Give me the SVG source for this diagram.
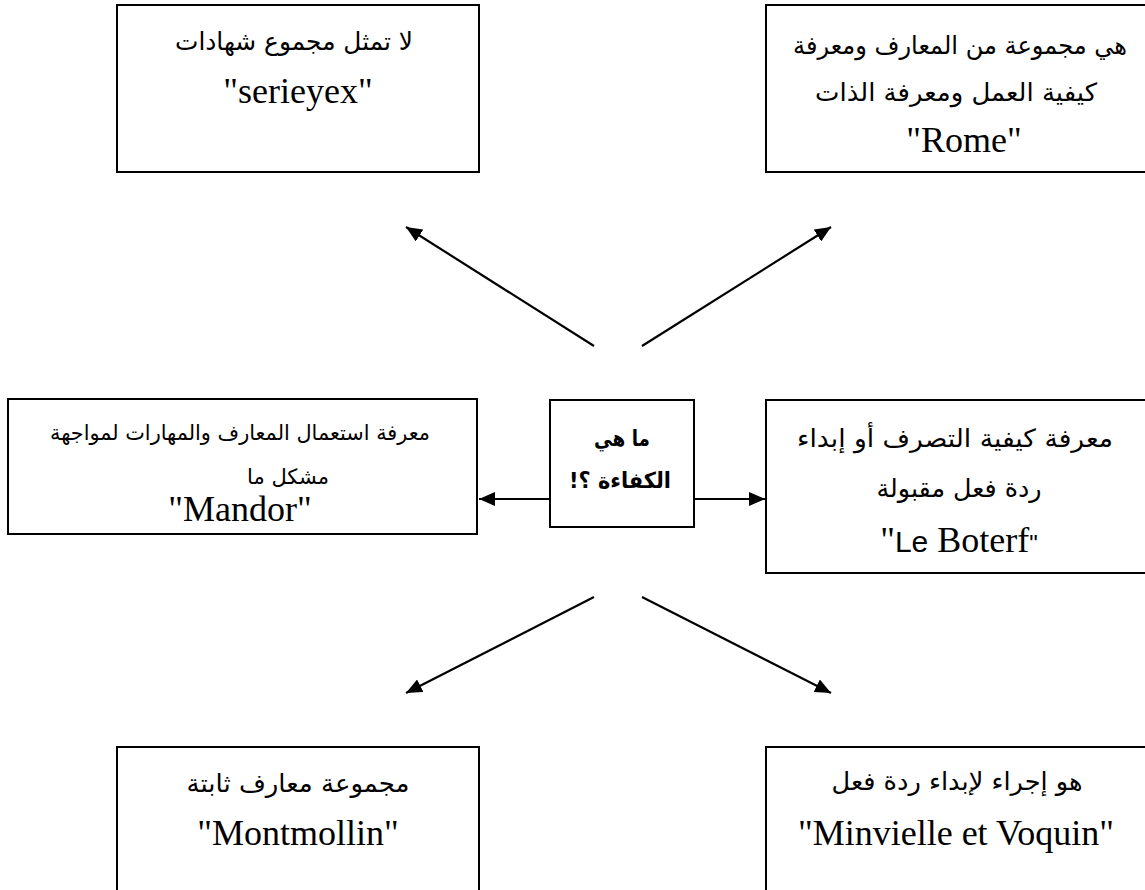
<svg xmlns="http://www.w3.org/2000/svg" width="1145" height="890" viewBox="0 0 1145 890">
  <style>
    .box { fill: #ffffff; stroke: #000000; stroke-width: 2; }
    .ar { font-family: "DejaVu Sans", "Noto Sans", sans-serif; font-size: 25px; fill: #000000; text-anchor: middle; direction: rtl; unicode-bidi: embed; }
    .ar-sm { font-family: "DejaVu Sans", "Noto Sans", sans-serif; font-size: 21px; fill: #000000; text-anchor: middle; direction: rtl; unicode-bidi: embed; }
    .arb { font-family: "DejaVu Sans", "Noto Sans", sans-serif; font-size: 22px; font-weight: bold; fill: #000000; text-anchor: middle; direction: rtl; unicode-bidi: embed; }
    .lat { font-family: "Liberation Serif", "Times New Roman", serif; font-size: 36px; fill: #000000; text-anchor: middle; }
    .sans { font-family: "Liberation Sans", Arial, sans-serif; }
    .link { fill: none; stroke: #000000; stroke-width: 2.2; }
  </style>
  <defs>
    <marker id="head" viewBox="0 0 16 14" refX="16" refY="7" markerWidth="16" markerHeight="14" markerUnits="userSpaceOnUse" orient="auto">
      <path d="M0,0 L16,7 L0,14 Z" fill="#000000"/>
    </marker>
  </defs>

  <rect width="1145" height="890" fill="#ffffff"/>

  <!-- connectors -->
  <g id="connectors">
    <line class="link" x1="594" y1="346" x2="406" y2="227" marker-end="url(#head)"/>
    <line class="link" x1="642" y1="346" x2="831" y2="227" marker-end="url(#head)"/>
    <line class="link" x1="594" y1="597" x2="406" y2="693" marker-end="url(#head)"/>
    <line class="link" x1="642" y1="597" x2="831" y2="693" marker-end="url(#head)"/>
    <line class="link" x1="550" y1="499" x2="479" y2="499" marker-end="url(#head)"/>
    <line class="link" x1="694" y1="499" x2="765" y2="499" marker-end="url(#head)"/>
  </g>

  <!-- top left -->
  <g id="node-serieyex">
    <rect class="box" x="117" y="5" width="362" height="167"/>
    <text class="ar" x="294" y="50" textLength="238" lengthAdjust="spacingAndGlyphs">لا تمثل مجموع شهادات</text>
    <text class="lat" x="298" y="103">"serieyex"</text>
  </g>

  <!-- top right -->
  <g id="node-rome">
    <rect class="box" x="766" y="5" width="386" height="167"/>
    <text class="ar" x="960" y="54" textLength="334" lengthAdjust="spacingAndGlyphs">هي مجموعة من المعارف ومعرفة</text>
    <text class="ar" x="956" y="101" textLength="282" lengthAdjust="spacingAndGlyphs">كيفية العمل ومعرفة الذات</text>
    <text class="lat" x="964" y="152">"Rome"</text>
  </g>

  <!-- middle left -->
  <g id="node-mandor">
    <rect class="box" x="8" y="399" width="469" height="135"/>
    <text class="ar-sm" x="240" y="440" textLength="380" lengthAdjust="spacingAndGlyphs">معرفة استعمال المعارف والمهارات لمواجهة</text>
    <text class="ar-sm" x="288" y="484">مشكل ما</text>
    <text class="lat" x="240" y="521">"Mandor"</text>
  </g>

  <!-- center -->
  <g id="node-center">
    <rect class="box" x="550" y="400" width="144" height="127"/>
    <text class="arb" x="622" y="446" textLength="56" lengthAdjust="spacingAndGlyphs">ما هي</text>
    <text class="arb" x="620" y="488" textLength="102" lengthAdjust="spacingAndGlyphs">الكفاءة ؟!</text>
  </g>

  <!-- middle right -->
  <g id="node-boterf">
    <rect class="box" x="766" y="400" width="386" height="173"/>
    <text class="ar" x="955" y="447" textLength="316" lengthAdjust="spacingAndGlyphs">معرفة كيفية التصرف أو إبداء</text>
    <text class="ar" x="959" y="497" textLength="165" lengthAdjust="spacingAndGlyphs">ردة فعل مقبولة</text>
    <text class="lat" x="959" y="552">"<tspan class="sans" font-size="30">Le</tspan> Boterf<tspan class="sans" font-size="24">"</tspan></text>
  </g>

  <!-- bottom left -->
  <g id="node-montmollin">
    <rect class="box" x="117" y="747" width="362" height="160"/>
    <text class="ar" x="298" y="792" textLength="223" lengthAdjust="spacingAndGlyphs">مجموعة معارف ثابتة</text>
    <text class="lat" x="298" y="845">"Montmollin"</text>
  </g>

  <!-- bottom right -->
  <g id="node-minvielle">
    <rect class="box" x="766" y="747" width="386" height="160"/>
    <text class="ar" x="957" y="790" textLength="251" lengthAdjust="spacingAndGlyphs">هو إجراء لإبداء ردة فعل</text>
    <text class="lat" x="956" y="845">"Minvielle et Voquin"</text>
  </g>
</svg>
